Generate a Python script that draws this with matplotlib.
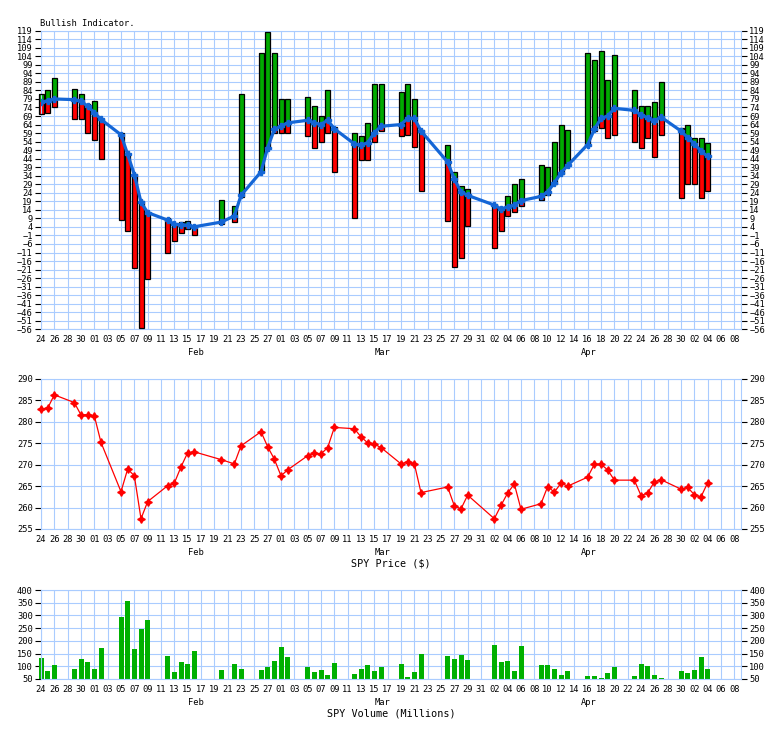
import numpy as np
import pandas as pd
import matplotlib
matplotlib.use("Agg")
import matplotlib.pyplot as plt
import matplotlib.dates as mdates

# trading days with data (Feb 21 and Mar 23 are missing in the source)
dates = ['2018-01-24', '2018-01-25', '2018-01-26', '2018-01-29', '2018-01-30', '2018-01-31',
         '2018-02-01', '2018-02-02', '2018-02-05', '2018-02-06', '2018-02-07', '2018-02-08', '2018-02-09',
         '2018-02-12', '2018-02-13', '2018-02-14', '2018-02-15', '2018-02-16',
         '2018-02-20', '2018-02-22', '2018-02-23',
         '2018-02-26', '2018-02-27', '2018-02-28', '2018-03-01', '2018-03-02',
         '2018-03-05', '2018-03-06', '2018-03-07', '2018-03-08', '2018-03-09',
         '2018-03-12', '2018-03-13', '2018-03-14', '2018-03-15', '2018-03-16',
         '2018-03-19', '2018-03-20', '2018-03-21', '2018-03-22',
         '2018-03-26', '2018-03-27', '2018-03-28', '2018-03-29',
         '2018-04-02', '2018-04-03', '2018-04-04', '2018-04-05', '2018-04-06',
         '2018-04-09', '2018-04-10', '2018-04-11', '2018-04-12', '2018-04-13',
         '2018-04-16', '2018-04-17', '2018-04-18', '2018-04-19', '2018-04-20',
         '2018-04-23', '2018-04-24', '2018-04-25', '2018-04-26', '2018-04-27',
         '2018-04-30', '2018-05-01', '2018-05-02', '2018-05-03', '2018-05-04']

bull_high = [82, 84, 91, 85, 82, 76,
             78, 67, 59, 47, 35, 19, 13,
             9, 6, 7, 7.6, 4,
             20, 16, 82,
             106, 118, 106, 79, 79,
             80, 75, 69, 84, 62.5,
             59, 57, 65, 88, 88,
             83, 88, 79, 61,
             52, 36, 28, 26,
             17.6, 15, 22, 29, 32,
             40, 39, 54, 64, 61,
             106, 102, 107, 90, 105,
             84, 75, 75, 77, 89,
             62, 64, 56, 56, 53]
bull_low = [70, 71, 74, 67, 67, 59,
            55, 44, 8, 1.5, -20, -55.5, -26.5,
            -11, -4, 0.5, 3, -1,
            6, 7, 21.7,
            36, 50.4, 58.8, 58.8, 58.8,
            57, 50, 54, 59, 36,
            9, 43, 43, 54, 60,
            57, 58, 51, 25,
            7.6, -19.6, -14, 4.7,
            -8.2, 1.7, 10.6, 13, 16,
            20, 23, 29, 35, 40,
            52, 60, 62, 56, 58,
            54, 50, 56, 45, 58,
            21, 29, 29, 21, 25]
bull_ma = [77, 78, 79, 78.6, 77.8, 74.7,
           71, 67, 58, 46.5, 34.7, 18.5, 12.4,
           8, 5.5, 5.4, 5, 4.1,
           6.8, 10.4, 22.5,
           36.3, 50.4, 61.2, 63, 65,
           66.5, 65, 64, 66.6, 61.5,
           52.7, 52, 53.3, 59.2, 63,
           64, 67.6, 67.6, 60.2,
           42, 32, 24.5, 22.5,
           16.8, 14.5, 15.8, 16.8, 19.4,
           21.9, 24.5, 29.8, 35.7, 40,
           52.3, 61.2, 67.6, 69, 73.5,
           72.3, 69.6, 68, 66.1, 68.4,
           60.2, 56.3, 52.7, 48.4, 45.3]

spy_price = [283.0, 283.2, 286.3, 284.5, 281.6, 281.7,
             281.4, 275.2, 263.7, 269.0, 267.4, 257.4, 261.4,
             265.1, 265.7, 269.5, 272.8, 273.0,
             271.2, 270.2, 274.4,
             277.7, 274.2, 271.3, 267.4, 268.8,
             272.1, 272.7, 272.5, 274.0, 278.7,
             278.4, 276.5, 275.1, 274.8, 274.0,
             270.2, 270.7, 270.2, 263.5,
             264.8, 260.4, 259.7, 262.9,
             257.4, 260.5, 263.4, 265.5, 259.6,
             260.9, 264.9, 263.6, 265.7, 265.0,
             267.1, 270.1, 270.1, 268.8, 266.4,
             266.4, 262.8, 263.4, 266.0, 266.5,
             264.3, 264.7, 263.0, 262.5, 265.8]

spy_volume = [133, 82, 105, 89, 129, 117,
              89, 172, 294, 357, 168, 247, 282,
              141, 78, 117, 109, 160,
              86, 109, 89,
              86, 97, 121, 176, 137,
              97, 78, 86, 66, 113,
              70, 89, 105, 82, 97,
              109, 58, 78, 148,
              141, 129, 144, 125,
              184, 117, 121, 82, 180,
              105, 105, 89, 66, 82,
              62, 62, 54, 74, 97,
              62, 109, 101, 66, 54,
              82, 74, 86, 137, 89]

months = ['Feb', 'Mar', 'Apr']
month_pos = ['2018-02-15', '2018-03-15', '2018-04-15']

x = mdates.date2num(pd.to_datetime(dates).to_pydatetime())
tick_days = pd.date_range('2018-01-24', '2018-05-08', freq='2D')
xt = mdates.date2num(tick_days.to_pydatetime())
xt_labels = [d.strftime('%d') for d in tick_days]
x0 = mdates.date2num(pd.Timestamp('2018-01-24').to_pydatetime())
x1 = mdates.date2num(pd.Timestamp('2018-05-09').to_pydatetime())
mx = mdates.date2num(pd.to_datetime(month_pos).to_pydatetime())

hi = np.array(bull_high)
lo = np.array(bull_low)
ma = np.array(bull_ma)

FONT = 'DejaVu Sans Mono'
GRID = '#aaccff'
plt.rcParams['font.family'] = FONT

fig = plt.figure(figsize=(7.84, 7.29), dpi=100)
W, H = 784.0, 729.0


def make_ax(top, bottom):
    ax = fig.add_axes([41 / W, 1 - bottom / H, 700 / W, (bottom - top) / H])
    ax.set_axisbelow(True)
    ax.grid(True, color=GRID, lw=0.8)
    for s in ax.spines.values():
        s.set_color(GRID)
        s.set_linewidth(0.8)
    ax.set_xlim(x0, x1)
    ax.set_xticks(xt)
    ax.set_xticklabels(xt_labels)
    ax.tick_params(axis='x', length=0, pad=4, labelsize=6.3)
    ax.tick_params(axis='y', which='both', left=True, right=True, labelleft=True,
                   labelright=True, length=4, width=0.8, color='black', labelsize=6.3, pad=2)
    for m, p in zip(months, mx):
        ax.annotate(m, xy=(p, 0), xycoords=ax.get_xaxis_transform(), xytext=(0, -17),
                    textcoords='offset points', ha='left', va='center', fontsize=6.3)
    return ax


# Bullish indicator
ax1 = make_ax(30.7, 329.3)
w = 0.75
g_bot = np.maximum(lo, ma)
g_h = np.clip(hi - g_bot, 0, None)
r_top = np.minimum(hi, ma)
r_h = np.clip(r_top - lo, 0, None)
ax1.bar(x, g_h, bottom=g_bot, width=w, color='#00aa00', lw=0, zorder=2, clip_on=False)
ax1.bar(x, r_h, bottom=lo, width=w, color='#ff0000', lw=0, zorder=2, clip_on=False)
ax1.bar(x, hi - lo, bottom=lo, width=w, fill=False, edgecolor='black', lw=0.9, zorder=3,
        clip_on=False)
ax1.plot(x, ma, color='#1466d6', lw=2.3, marker='P', ms=4, zorder=4)
ax1.set_ylim(-56, 119)
ax1.set_yticks(np.arange(-56, 120, 5))
fig.text(40 / W, 1 - 24 / H, 'Bullish Indicator.', fontsize=6.3, va='center', ha='left')

# SPY price
ax2 = make_ax(379, 529)
ax2.plot(x, spy_price, color='#ff0000', lw=0.9, marker=(4, 1, 0), ms=5.5, zorder=3,
         clip_on=False)
ax2.set_ylim(255, 290)
ax2.set_yticks(np.arange(255, 291, 5))
fig.text(391 / W, 1 - 563 / H, 'SPY Price ($)', fontsize=7.3, ha='center', va='center')

# SPY volume (bars start at the 50 baseline)
ax3 = make_ax(590, 679)
vol_base = 50
ax3.bar(x, np.array(spy_volume) - vol_base, bottom=vol_base, width=w, color='#00b000',
        lw=0, zorder=2, clip_on=False)
ax3.set_ylim(50, 400)
ax3.set_yticks(np.arange(50, 401, 50))
fig.text(391 / W, 1 - 713 / H, 'SPY Volume (Millions)', fontsize=7.3, ha='center', va='center')

fig.savefig('out.png', dpi=100)
